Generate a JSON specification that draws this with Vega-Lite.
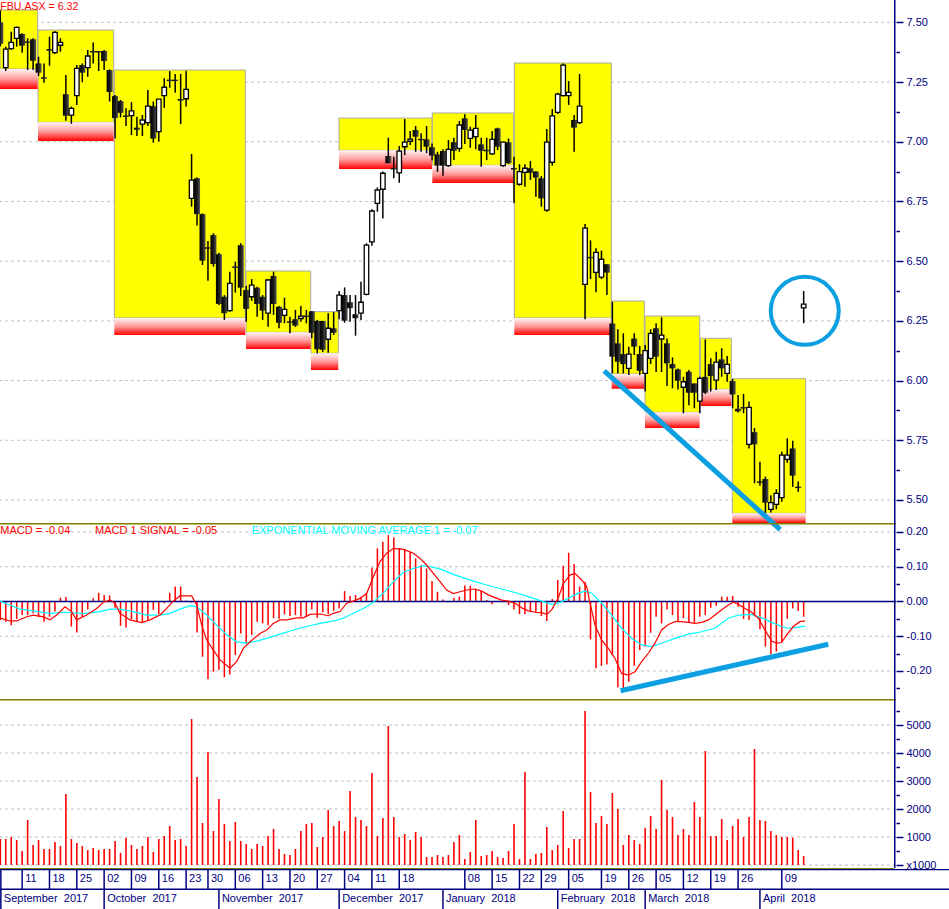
{
"$schema": "https://vega.github.io/schema/vega-lite/v6.json",
"padding": 0,
"spacing": 0,
"bounds": "flush",
"background": "white",
"config": {"view": {"stroke": null}, "font": "Liberation Sans", "axis": {"labelFont": "Liberation Sans"}},
"datasets": {
"days": [
{"i":0,"o":7.50,"h":7.55,"l":7.40,"c":7.41,"m":-0.053,"v":929},
{"i":1,"o":7.31,"h":7.398,"l":7.296,"c":7.388,"m":-0.058,"v":929},
{"i":2,"o":7.39,"h":7.46,"l":7.384,"c":7.416,"m":-0.068,"v":1000},
{"i":3,"o":7.433,"h":7.482,"l":7.398,"c":7.479,"m":-0.05,"v":893},
{"i":4,"o":7.451,"h":7.454,"l":7.373,"c":7.402,"m":-0.039,"v":500},
{"i":5,"o":7.42,"h":7.433,"l":7.30,"c":7.414,"m":-0.039,"v":1607},
{"i":6,"o":7.429,"h":7.433,"l":7.30,"c":7.339,"m":-0.034,"v":714},
{"i":7,"o":7.328,"h":7.356,"l":7.275,"c":7.289,"m":-0.044,"v":893},
{"i":8,"o":7.27,"h":7.328,"l":7.247,"c":7.264,"m":-0.058,"v":571},
{"i":9,"o":7.388,"h":7.44,"l":7.318,"c":7.381,"m":-0.044,"v":571},
{"i":10,"o":7.373,"h":7.464,"l":7.367,"c":7.458,"m":-0.029,"v":821},
{"i":11,"o":7.404,"h":7.433,"l":7.377,"c":7.416,"m":0.011,"v":679},
{"i":12,"o":7.199,"h":7.279,"l":7.088,"c":7.109,"m":0.013,"v":2536},
{"i":13,"o":7.111,"h":7.147,"l":7.075,"c":7.14,"m":-0.072,"v":929},
{"i":14,"o":7.193,"h":7.321,"l":7.154,"c":7.307,"m":-0.089,"v":786},
{"i":15,"o":7.321,"h":7.328,"l":7.249,"c":7.289,"m":-0.044,"v":679},
{"i":16,"o":7.31,"h":7.384,"l":7.272,"c":7.359,"m":-0.023,"v":536},
{"i":17,"o":7.38,"h":7.415,"l":7.328,"c":7.374,"m":0.009,"v":607},
{"i":18,"o":7.38,"h":7.38,"l":7.296,"c":7.374,"m":0.025,"v":536},
{"i":19,"o":7.38,"h":7.384,"l":7.30,"c":7.338,"m":0.019,"v":571},
{"i":20,"o":7.30,"h":7.303,"l":7.168,"c":7.208,"m":0.017,"v":571},
{"i":21,"o":7.191,"h":7.196,"l":7.014,"c":7.099,"m":-0.018,"v":857},
{"i":22,"o":7.17,"h":7.175,"l":7.102,"c":7.121,"m":-0.07,"v":429},
{"i":23,"o":7.11,"h":7.14,"l":7.066,"c":7.104,"m":-0.075,"v":964},
{"i":24,"o":7.109,"h":7.166,"l":7.028,"c":7.129,"m":-0.051,"v":714},
{"i":25,"o":7.059,"h":7.105,"l":7.024,"c":7.05,"m":-0.056,"v":571},
{"i":26,"o":7.074,"h":7.112,"l":7.024,"c":7.091,"m":-0.06,"v":679},
{"i":27,"o":7.08,"h":7.217,"l":7.066,"c":7.149,"m":-0.056,"v":1000},
{"i":28,"o":7.149,"h":7.168,"l":6.996,"c":7.013,"m":-0.024,"v":464},
{"i":29,"o":7.042,"h":7.178,"l":7.0,"c":7.178,"m":-0.037,"v":929},
{"i":30,"o":7.193,"h":7.266,"l":7.142,"c":7.228,"m":-0.005,"v":1036},
{"i":31,"o":7.26,"h":7.296,"l":7.226,"c":7.254,"m":0.025,"v":1393},
{"i":32,"o":7.26,"h":7.284,"l":7.205,"c":7.254,"m":0.043,"v":893},
{"i":33,"o":7.179,"h":7.284,"l":7.074,"c":7.172,"m":0.043,"v":929},
{"i":34,"o":7.18,"h":7.297,"l":7.147,"c":7.219,"m":0.002,"v":679},
{"i":35,"o":6.763,"h":6.949,"l":6.728,"c":6.839,"m":-0.003,"v":5214},
{"i":36,"o":6.847,"h":6.85,"l":6.649,"c":6.697,"m":-0.089,"v":3143},
{"i":37,"o":6.697,"h":6.70,"l":6.484,"c":6.502,"m":-0.159,"v":1500},
{"i":38,"o":6.558,"h":6.584,"l":6.418,"c":6.552,"m":-0.224,"v":4036},
{"i":39,"o":6.609,"h":6.617,"l":6.477,"c":6.488,"m":-0.202,"v":1214},
{"i":40,"o":6.529,"h":6.535,"l":6.316,"c":6.321,"m":-0.197,"v":2357},
{"i":41,"o":6.351,"h":6.358,"l":6.254,"c":6.282,"m":-0.218,"v":1464},
{"i":42,"o":6.293,"h":6.456,"l":6.288,"c":6.407,"m":-0.21,"v":857},
{"i":43,"o":6.478,"h":6.498,"l":6.368,"c":6.472,"m":-0.154,"v":1536},
{"i":44,"o":6.567,"h":6.575,"l":6.354,"c":6.389,"m":-0.092,"v":857},
{"i":45,"o":6.379,"h":6.396,"l":6.246,"c":6.30,"m":-0.12,"v":750},
{"i":46,"o":6.351,"h":6.425,"l":6.334,"c":6.40,"m":-0.096,"v":571},
{"i":47,"o":6.389,"h":6.393,"l":6.267,"c":6.321,"m":-0.058,"v":750},
{"i":48,"o":6.351,"h":6.358,"l":6.254,"c":6.293,"m":-0.063,"v":679},
{"i":49,"o":6.282,"h":6.425,"l":6.225,"c":6.421,"m":-0.068,"v":1036},
{"i":50,"o":6.438,"h":6.456,"l":6.275,"c":6.321,"m":-0.048,"v":1286},
{"i":51,"o":6.309,"h":6.312,"l":6.219,"c":6.242,"m":-0.05,"v":571},
{"i":52,"o":6.273,"h":6.347,"l":6.24,"c":6.298,"m":-0.037,"v":393},
{"i":53,"o":6.248,"h":6.267,"l":6.198,"c":6.242,"m":-0.042,"v":357},
{"i":54,"o":6.257,"h":6.296,"l":6.225,"c":6.23,"m":-0.039,"v":571},
{"i":55,"o":6.26,"h":6.312,"l":6.246,"c":6.27,"m":-0.044,"v":1214},
{"i":56,"o":6.272,"h":6.296,"l":6.24,"c":6.266,"m":-0.044,"v":1464},
{"i":57,"o":6.29,"h":6.29,"l":6.177,"c":6.20,"m":-0.023,"v":1500},
{"i":58,"o":6.25,"h":6.254,"l":6.114,"c":6.131,"m":-0.047,"v":643},
{"i":59,"o":6.25,"h":6.25,"l":6.12,"c":6.129,"m":-0.031,"v":1000},
{"i":60,"o":6.173,"h":6.282,"l":6.117,"c":6.219,"m":-0.037,"v":1964},
{"i":61,"o":6.219,"h":6.288,"l":6.191,"c":6.20,"m":-0.027,"v":1393},
{"i":62,"o":6.293,"h":6.375,"l":6.257,"c":6.358,"m":-0.02,"v":1571},
{"i":63,"o":6.358,"h":6.39,"l":6.242,"c":6.251,"m":0.03,"v":1214},
{"i":64,"o":6.328,"h":6.358,"l":6.246,"c":6.303,"m":0.016,"v":2643},
{"i":65,"o":6.278,"h":6.358,"l":6.188,"c":6.261,"m":0.019,"v":1714},
{"i":66,"o":6.282,"h":6.414,"l":6.254,"c":6.328,"m":0.014,"v":1607},
{"i":67,"o":6.361,"h":6.575,"l":6.357,"c":6.567,"m":0.024,"v":1393},
{"i":68,"o":6.581,"h":6.717,"l":6.565,"c":6.71,"m":0.097,"v":3286},
{"i":69,"o":6.742,"h":6.809,"l":6.707,"c":6.798,"m":0.153,"v":1036},
{"i":70,"o":6.801,"h":6.875,"l":6.679,"c":6.868,"m":0.172,"v":1679},
{"i":71,"o":6.94,"h":7.017,"l":6.91,"c":6.91,"m":0.191,"v":4964},
{"i":72,"o":6.89,"h":6.937,"l":6.847,"c":6.884,"m":0.184,"v":1714},
{"i":73,"o":6.87,"h":6.982,"l":6.828,"c":6.961,"m":0.153,"v":1000},
{"i":74,"o":6.979,"h":7.095,"l":6.944,"c":6.998,"m":0.15,"v":1107},
{"i":75,"o":7.002,"h":7.045,"l":6.986,"c":7.011,"m":0.143,"v":893},
{"i":76,"o":7.049,"h":7.066,"l":6.958,"c":7.021,"m":0.124,"v":1179},
{"i":77,"o":7.012,"h":7.035,"l":6.958,"c":7.006,"m":0.105,"v":1000},
{"i":78,"o":7.01,"h":7.066,"l":6.952,"c":6.979,"m":0.095,"v":286},
{"i":79,"o":6.977,"h":6.993,"l":6.921,"c":6.942,"m":0.059,"v":286},
{"i":80,"o":6.947,"h":6.958,"l":6.874,"c":6.90,"m":0.028,"v":357},
{"i":81,"o":6.961,"h":6.968,"l":6.858,"c":6.90,"m":0.006,"v":286},
{"i":82,"o":6.90,"h":7.007,"l":6.895,"c":6.968,"m":-0.002,"v":357},
{"i":83,"o":6.998,"h":7.017,"l":6.923,"c":6.962,"m":0.011,"v":821},
{"i":84,"o":6.972,"h":7.087,"l":6.958,"c":7.07,"m":0.014,"v":1071},
{"i":85,"o":7.098,"h":7.115,"l":6.99,"c":7.049,"m":0.046,"v":214},
{"i":86,"o":7.014,"h":7.063,"l":6.975,"c":7.049,"m":0.045,"v":464},
{"i":87,"o":7.021,"h":7.112,"l":6.968,"c":7.056,"m":0.036,"v":1607},
{"i":88,"o":6.989,"h":7.017,"l":6.895,"c":6.962,"m":0.03,"v":321},
{"i":89,"o":6.966,"h":7.017,"l":6.923,"c":6.96,"m":0.004,"v":357},
{"i":90,"o":6.949,"h":7.045,"l":6.944,"c":7.01,"m":-0.008,"v":500},
{"i":91,"o":7.056,"h":7.059,"l":6.965,"c":6.979,"m":0.001,"v":286},
{"i":92,"o":6.90,"h":7.0,"l":6.895,"c":6.998,"m":-0.002,"v":250},
{"i":93,"o":6.998,"h":7.014,"l":6.907,"c":6.91,"m":-0.01,"v":500},
{"i":94,"o":6.89,"h":6.937,"l":6.743,"c":6.884,"m":-0.023,"v":1464},
{"i":95,"o":6.822,"h":6.906,"l":6.816,"c":6.875,"m":-0.036,"v":214},
{"i":96,"o":6.872,"h":6.906,"l":6.812,"c":6.889,"m":-0.037,"v":3321},
{"i":97,"o":6.889,"h":6.919,"l":6.84,"c":6.87,"m":-0.029,"v":214},
{"i":98,"o":6.875,"h":6.877,"l":6.77,"c":6.85,"m":-0.031,"v":393},
{"i":99,"o":6.847,"h":6.856,"l":6.728,"c":6.763,"m":-0.042,"v":429},
{"i":100,"o":6.714,"h":7.053,"l":6.707,"c":6.998,"m":-0.056,"v":1357},
{"i":101,"o":6.914,"h":7.137,"l":6.90,"c":7.108,"m":0.007,"v":536},
{"i":102,"o":7.123,"h":7.205,"l":7.116,"c":7.199,"m":0.062,"v":714},
{"i":103,"o":7.193,"h":7.328,"l":7.189,"c":7.321,"m":0.103,"v":1929},
{"i":104,"o":7.193,"h":7.254,"l":7.154,"c":7.207,"m":0.14,"v":607},
{"i":105,"o":7.091,"h":7.112,"l":6.958,"c":7.059,"m":0.108,"v":929},
{"i":106,"o":7.08,"h":7.284,"l":7.074,"c":7.149,"m":0.043,"v":929},
{"i":107,"o":6.403,"h":6.656,"l":6.257,"c":6.638,"m":0.057,"v":5500},
{"i":108,"o":6.518,"h":6.587,"l":6.425,"c":6.512,"m":-0.109,"v":2607},
{"i":109,"o":6.453,"h":6.554,"l":6.37,"c":6.537,"m":-0.192,"v":1500},
{"i":110,"o":6.433,"h":6.544,"l":6.425,"c":6.508,"m":-0.185,"v":1750},
{"i":111,"o":6.487,"h":6.487,"l":6.358,"c":6.452,"m":-0.181,"v":1464},
{"i":112,"o":6.239,"h":6.33,"l":6.03,"c":6.10,"m":-0.154,"v":2571},
{"i":113,"o":6.156,"h":6.215,"l":6.03,"c":6.079,"m":-0.247,"v":2000},
{"i":114,"o":6.111,"h":6.198,"l":6.03,"c":6.069,"m":-0.25,"v":714},
{"i":115,"o":6.051,"h":6.142,"l":6.023,"c":6.111,"m":-0.231,"v":1071},
{"i":116,"o":6.176,"h":6.198,"l":6.107,"c":6.142,"m":-0.185,"v":893},
{"i":117,"o":6.111,"h":6.145,"l":6.023,"c":6.041,"m":-0.14,"v":750},
{"i":118,"o":6.03,"h":6.149,"l":5.954,"c":6.125,"m":-0.13,"v":1321},
{"i":119,"o":6.093,"h":6.215,"l":6.069,"c":6.198,"m":-0.09,"v":1750},
{"i":120,"o":6.219,"h":6.24,"l":6.036,"c":6.10,"m":-0.044,"v":1286},
{"i":121,"o":6.174,"h":6.265,"l":6.036,"c":6.19,"m":-0.063,"v":3036},
{"i":122,"o":6.156,"h":6.176,"l":5.977,"c":6.072,"m":-0.023,"v":1964},
{"i":123,"o":6.069,"h":6.097,"l":5.968,"c":6.051,"m":-0.039,"v":1714},
{"i":124,"o":6.047,"h":6.051,"l":5.963,"c":5.999,"m":-0.058,"v":1071},
{"i":125,"o":5.972,"h":6.016,"l":5.863,"c":5.995,"m":-0.048,"v":1286},
{"i":126,"o":6.037,"h":6.044,"l":5.897,"c":5.949,"m":-0.06,"v":1071},
{"i":127,"o":5.988,"h":5.988,"l":5.884,"c":5.949,"m":-0.061,"v":2250},
{"i":128,"o":5.914,"h":6.016,"l":5.863,"c":6.009,"m":-0.044,"v":1714},
{"i":129,"o":6.016,"h":6.172,"l":5.944,"c":5.949,"m":-0.039,"v":4071},
{"i":130,"o":6.069,"h":6.093,"l":5.954,"c":6.019,"m":-0.018,"v":1036},
{"i":131,"o":6.002,"h":6.121,"l":5.961,"c":6.077,"m":-0.012,"v":1036},
{"i":132,"o":6.089,"h":6.135,"l":6.016,"c":6.051,"m":0.014,"v":1643},
{"i":133,"o":6.03,"h":6.103,"l":5.995,"c":6.068,"m":0.014,"v":893},
{"i":134,"o":5.998,"h":6.007,"l":5.884,"c":5.942,"m":0.016,"v":1393},
{"i":135,"o":5.882,"h":5.94,"l":5.866,"c":5.871,"m":-0.015,"v":1643},
{"i":136,"o":5.889,"h":5.944,"l":5.863,"c":5.883,"m":-0.05,"v":1000},
{"i":137,"o":5.733,"h":5.912,"l":5.716,"c":5.888,"m":-0.053,"v":1714},
{"i":138,"o":5.784,"h":5.802,"l":5.57,"c":5.733,"m":-0.039,"v":4143},
{"i":139,"o":5.578,"h":5.66,"l":5.56,"c":5.572,"m":-0.08,"v":1607},
{"i":140,"o":5.588,"h":5.598,"l":5.444,"c":5.489,"m":-0.13,"v":1571},
{"i":141,"o":5.461,"h":5.52,"l":5.448,"c":5.489,"m":-0.152,"v":1214},
{"i":142,"o":5.482,"h":5.545,"l":5.461,"c":5.528,"m":-0.144,"v":1071},
{"i":143,"o":5.51,"h":5.702,"l":5.493,"c":5.688,"m":-0.116,"v":1000},
{"i":144,"o":5.67,"h":5.758,"l":5.656,"c":5.688,"m":-0.05,"v":1000},
{"i":145,"o":5.716,"h":5.748,"l":5.555,"c":5.602,"m":-0.02,"v":976},
{"i":146,"o":5.556,"h":5.577,"l":5.535,"c":5.55,"m":-0.027,"v":536},
{"i":147,"o":6.304,"h":6.375,"l":6.24,"c":6.32,"m":-0.044,"v":321}
],
"boxes": [
{"s":-0.055,"e":6.85,"top":7.5515,"bot":7.3045,"red":7.2208},
{"s":6.9,"e":20.75,"top":7.4678,"bot":7.0813,"red":7.003},
{"s":20.86,"e":44.83,"top":7.3003,"bot":6.262,"red":6.191},
{"s":44.96,"e":56.8,"top":6.4587,"bot":6.2022,"red":6.1323},
{"s":56.85,"e":61.85,"top":6.2884,"bot":6.1142,"red":6.0443},
{"s":61.98,"e":79.0,"top":7.0993,"bot":6.9641,"red":6.8858},
{"s":79.05,"e":93.94,"top":7.1203,"bot":6.9013,"red":6.8272},
{"s":94.05,"e":111.8,"top":7.3296,"bot":6.262,"red":6.191},
{"s":111.87,"e":117.84,"top":6.3331,"bot":6.0275,"red":5.966},
{"s":117.97,"e":127.97,"top":6.2703,"bot":5.8671,"red":5.8013},
{"s":128.09,"e":133.76,"top":6.177,"bot":5.9635,"red":5.8936},
{"s":133.94,"e":147.37,"top":6.0078,"bot":5.4443,"red":5.4037}
],
"sig": [
{"i":-0.05,"v":-0.048},{"i":1.77,"v":-0.056},{"i":3.0,"v":-0.056},{"i":4.82,"v":-0.044},{"i":6.04,"v":-0.039},{"i":7.87,"v":-0.044},{"i":9.09,"v":-0.053},{"i":10.31,"v":-0.039},{"i":11.84,"v":-0.015},{"i":13.06,"v":-0.029},{"i":13.97,"v":-0.053},{"i":15.8,"v":-0.039},{"i":17.63,"v":-0.02},{"i":18.85,"v":-0.002},{"i":20.07,"v":0.004},{"i":20.99,"v":-0.005},{"i":21.9,"v":-0.034},{"i":23.73,"v":-0.053},{"i":25.87,"v":-0.061},{"i":27.39,"v":-0.053},{"i":29.22,"v":-0.039},{"i":30.44,"v":-0.02},{"i":31.66,"v":0.001},{"i":32.88,"v":0.016},{"i":35.02,"v":0.016},{"i":35.93,"v":-0.01},{"i":36.85,"v":-0.068},{"i":37.76,"v":-0.111},{"i":38.98,"v":-0.14},{"i":40.2,"v":-0.168},{"i":42.03,"v":-0.192},{"i":43.25,"v":-0.173},{"i":44.47,"v":-0.135},{"i":45.69,"v":-0.116},{"i":47.52,"v":-0.092},{"i":48.74,"v":-0.082},{"i":49.96,"v":-0.063},{"i":51.18,"v":-0.053},{"i":52.4,"v":-0.053},{"i":54.23,"v":-0.047},{"i":55.45,"v":-0.047},{"i":56.67,"v":-0.037},{"i":58.5,"v":-0.036},{"i":60.02,"v":-0.041},{"i":60.94,"v":-0.034},{"i":62.16,"v":-0.029},{"i":63.38,"v":-0.005},{"i":64.6,"v":0.001},{"i":65.82,"v":0.009},{"i":67.04,"v":0.023},{"i":68.26,"v":0.071},{"i":69.48,"v":0.115},{"i":70.7,"v":0.139},{"i":71.92,"v":0.153},{"i":73.75,"v":0.15},{"i":75.58,"v":0.139},{"i":76.8,"v":0.124},{"i":78.02,"v":0.105},{"i":79.24,"v":0.081},{"i":80.46,"v":0.057},{"i":81.68,"v":0.033},{"i":82.9,"v":0.023},{"i":84.12,"v":0.028},{"i":85.34,"v":0.033},{"i":86.86,"v":0.036},{"i":88.08,"v":0.03},{"i":89.3,"v":0.019},{"i":90.52,"v":0.011},{"i":91.74,"v":0.004},{"i":92.96,"v":0.001},{"i":94.18,"v":-0.005},{"i":95.4,"v":-0.018},{"i":96.62,"v":-0.027},{"i":97.84,"v":-0.031},{"i":99.06,"v":-0.032},{"i":99.98,"v":-0.037},{"i":100.89,"v":-0.024},{"i":102.11,"v":0.011},{"i":103.03,"v":0.052},{"i":104.25,"v":0.076},{"i":105.16,"v":0.081},{"i":106.38,"v":0.062},{"i":107.3,"v":0.043},{"i":107.91,"v":-0.005},{"i":108.82,"v":-0.068},{"i":110.04,"v":-0.111},{"i":111.26,"v":-0.135},{"i":112.48,"v":-0.164},{"i":113.69,"v":-0.207},{"i":114.91,"v":-0.212},{"i":116.13,"v":-0.202},{"i":117.35,"v":-0.173},{"i":118.57,"v":-0.149},{"i":119.79,"v":-0.12},{"i":121.0,"v":-0.082},{"i":122.24,"v":-0.066},{"i":123.46,"v":-0.058},{"i":124.68,"v":-0.058},{"i":125.9,"v":-0.06},{"i":127.12,"v":-0.063},{"i":128.34,"v":-0.06},{"i":129.56,"v":-0.053},{"i":130.78,"v":-0.039},{"i":132.0,"v":-0.024},{"i":133.22,"v":-0.01},{"i":134.13,"v":-0.002},{"i":135.05,"v":-0.008},{"i":136.27,"v":-0.02},{"i":137.48,"v":-0.031},{"i":138.7,"v":-0.048},{"i":139.92,"v":-0.082},{"i":141.14,"v":-0.114},{"i":142.06,"v":-0.12},{"i":142.97,"v":-0.118},{"i":143.89,"v":-0.096},{"i":145.1,"v":-0.072},{"i":146.32,"v":-0.058},{"i":147.24,"v":-0.056}
],
"ema": [
{"i":-0.05,"v":0.001},{"i":1.77,"v":-0.01},{"i":3.6,"v":-0.022},{"i":6.04,"v":-0.027},{"i":9.09,"v":-0.034},{"i":12.14,"v":-0.031},{"i":15.19,"v":-0.035},{"i":18.24,"v":-0.029},{"i":20.07,"v":-0.022},{"i":21.9,"v":-0.022},{"i":24.34,"v":-0.029},{"i":26.78,"v":-0.039},{"i":29.22,"v":-0.039},{"i":31.05,"v":-0.034},{"i":32.88,"v":-0.022},{"i":34.71,"v":-0.012},{"i":35.93,"v":-0.015},{"i":37.76,"v":-0.039},{"i":39.59,"v":-0.068},{"i":41.42,"v":-0.096},{"i":43.25,"v":-0.116},{"i":45.08,"v":-0.12},{"i":46.91,"v":-0.114},{"i":48.74,"v":-0.106},{"i":51.18,"v":-0.094},{"i":53.62,"v":-0.082},{"i":56.06,"v":-0.072},{"i":58.5,"v":-0.063},{"i":60.94,"v":-0.056},{"i":62.77,"v":-0.048},{"i":64.6,"v":-0.034},{"i":66.43,"v":-0.02},{"i":68.26,"v":-0.002},{"i":70.09,"v":0.024},{"i":71.92,"v":0.057},{"i":73.75,"v":0.084},{"i":75.58,"v":0.095},{"i":77.41,"v":0.103},{"i":78.63,"v":0.1},{"i":80.46,"v":0.094},{"i":82.9,"v":0.078},{"i":85.34,"v":0.065},{"i":86.86,"v":0.057},{"i":89.3,"v":0.046},{"i":91.74,"v":0.036},{"i":94.18,"v":0.026},{"i":96.62,"v":0.014},{"i":99.06,"v":0.001},{"i":100.89,"v":-0.008},{"i":102.11,"v":-0.005},{"i":103.94,"v":0.009},{"i":105.77,"v":0.024},{"i":106.99,"v":0.03},{"i":108.21,"v":0.024},{"i":110.04,"v":-0.005},{"i":111.87,"v":-0.039},{"i":113.69,"v":-0.077},{"i":115.52,"v":-0.106},{"i":117.35,"v":-0.125},{"i":119.19,"v":-0.13},{"i":121.0,"v":-0.12},{"i":123.46,"v":-0.106},{"i":125.9,"v":-0.094},{"i":128.34,"v":-0.087},{"i":130.78,"v":-0.077},{"i":133.22,"v":-0.048},{"i":135.05,"v":-0.039},{"i":137.48,"v":-0.037},{"i":139.31,"v":-0.047},{"i":141.14,"v":-0.06},{"i":142.97,"v":-0.072},{"i":144.19,"v":-0.077},{"i":145.41,"v":-0.075},{"i":147.24,"v":-0.071}
],
"trendPrice": [{"i":110.5,"p":6.041},{"i":142.7,"p":5.376}],
"trendMacd": [{"i":113.5,"v":-0.257},{"i":151.5,"v":-0.123}],
"circle": [{"i":147.2,"p":6.292}],
"gridP": [{"g":5.5},{"g":5.75},{"g":6.0},{"g":6.25},{"g":6.5},{"g":6.75},{"g":7.0},{"g":7.25},{"g":7.5}],
"gridM": [{"g":-0.2},{"g":-0.1},{"g":0.1},{"g":0.2}],
"gridV": [{"g":0},{"g":1000},{"g":2000},{"g":3000},{"g":4000},{"g":5000}],
"dayTicks": [
{"i":0.1,"t":""},{"i":4,"t":"11"},{"i":9,"t":"18"},{"i":14,"t":"25"},{"i":19,"t":"02"},{"i":24,"t":"09"},{"i":29,"t":"16"},{"i":34,"t":"23"},{"i":38,"t":"30"},{"i":43,"t":"06"},{"i":48,"t":"13"},{"i":53,"t":"20"},{"i":58,"t":"27"},{"i":63,"t":"04"},{"i":68,"t":"11"},{"i":73,"t":"18"},{"i":85,"t":"08"},{"i":90,"t":"15"},{"i":95,"t":"22"},{"i":99,"t":"29"},{"i":104,"t":"05"},{"i":110,"t":"19"},{"i":115,"t":"26"},{"i":120,"t":"05"},{"i":125,"t":"12"},{"i":130,"t":"19"},{"i":135,"t":"26"},{"i":143,"t":"09"}
],
"monthTicks": [
{"i":0.1,"t":"September\u00a0 2017"},{"i":19,"t":"October\u00a0 2017"},{"i":40,"t":"November\u00a0 2017"},{"i":62,"t":"December\u00a0 2017"},{"i":81,"t":"January\u00a0 2018"},{"i":102,"t":"February\u00a0 2018"},{"i":118,"t":"March\u00a0 2018"},{"i":139,"t":"April\u00a0 2018"}
]
},
"vconcat": [
{
"width": 896, "height": 523,
"encoding": {
 "x": {"type": "quantitative", "scale": {"domain": [-0.055, 163.896], "nice": false, "zero": false, "padding": 0}, "axis": null},
 "y": {"type": "quantitative", "scale": {"domain": [5.4037, 7.5934], "nice": false, "zero": false, "padding": 0},
   "axis": {"orient": "right", "title": null, "domain": false, "grid": false,
     "values": [5.5,5.625,5.75,5.875,6,6.125,6.25,6.375,6.5,6.625,6.75,6.875,7,7.125,7.25,7.375,7.5],
     "labelExpr": "abs(datum.value*4 - round(datum.value*4)) < 0.01 ? format(datum.value, '.2f') : ''",
     "tickSize": {"condition": {"test": "abs(datum.value*4 - round(datum.value*4)) > 0.01", "value": 3.5}, "value": 7},
     "tickColor": "#000080", "tickWidth": 1.5,
     "labelColor": "#000080", "labelFontSize": 11, "labelPadding": 3, "labelOverlap": false, "labelFlush": false, "labelBound": false}}
},
"layer": [
 {"data": {"name": "gridP"}, "mark": {"type": "rule", "color": "#c0c0c0", "strokeWidth": 1, "strokeDash": [3,3], "clip": true},
  "encoding": {"y": {"field": "g"}}},
 {"data": {"name": "boxes"}, "mark": {"type": "rect", "fill": "#ffff00", "stroke": "#a8a8a8", "strokeWidth": 1, "clip": true},
  "encoding": {"x": {"field": "s"}, "x2": {"field": "e"}, "y": {"field": "top"}, "y2": {"field": "bot"}}},
 {"data": {"name": "boxes"}, "mark": {"type": "rect", "clip": true, "fill": {"gradient": "linear", "x1": 0, "y1": 0, "x2": 0, "y2": 1, "stops": [{"offset": 0, "color": "#fff4f4"}, {"offset": 0.5, "color": "#ff9a9a"}, {"offset": 1, "color": "#ff0000"}]}},
  "encoding": {"x": {"field": "s"}, "x2": {"field": "e"}, "y": {"field": "bot"}, "y2": {"field": "red"}}},
 {"data": {"name": "days"}, "mark": {"type": "rule", "color": "#000000", "strokeWidth": 1.5, "clip": true},
  "encoding": {"x": {"field": "i"}, "y": {"field": "l"}, "y2": {"field": "h"}}},
 {"data": {"name": "days"}, "transform": [{"filter": "datum.c < datum.o"}],
  "mark": {"type": "bar", "width": 6, "clip": true, "fill": {"gradient": "linear", "x1": 0, "y1": 0, "x2": 1, "y2": 0, "stops": [{"offset": 0, "color": "#000000"}, {"offset": 0.55, "color": "#1c1c1c"}, {"offset": 1, "color": "#5a5a5a"}]}},
  "encoding": {"x": {"field": "i"}, "y": {"field": "o"}, "y2": {"field": "c"}}},
 {"data": {"name": "days"}, "transform": [{"filter": "datum.c >= datum.o"}],
  "mark": {"type": "bar", "width": 4.5, "fill": "#ffffff", "stroke": "#000000", "strokeWidth": 1.3, "clip": true},
  "encoding": {"x": {"field": "i"}, "y": {"field": "o"}, "y2": {"field": "c"}}},
 {"data": {"values": [{}]}, "mark": {"type": "rule", "color": "#000080", "strokeWidth": 1.5, "clip": true},
  "encoding": {"x": {"datum": 163.67}}},
 {"data": {"name": "trendPrice"}, "mark": {"type": "line", "color": "#0ca0e2", "strokeWidth": 5, "clip": false},
  "encoding": {"x": {"field": "i"}, "y": {"field": "p"}}},
 {"data": {"name": "circle"}, "mark": {"type": "point", "shape": "circle", "filled": false, "stroke": "#0ca0e2", "strokeWidth": 4, "size": 4624, "opacity": 1},
  "encoding": {"x": {"field": "i"}, "y": {"field": "p"}}},
 {"data": {"values": [{"t": "FBU.ASX = 6.32"}]}, "mark": {"type": "text", "align": "left", "baseline": "middle", "color": "#ff0000", "fontSize": 10.6, "font": "Liberation Sans"},
  "encoding": {"x": {"datum": 0}, "y": {"datum": 7.564}, "text": {"field": "t"}}}
]
},
{
"width": 896, "height": 176,
"encoding": {
 "x": {"type": "quantitative", "scale": {"domain": [-0.055, 163.896], "nice": false, "zero": false, "padding": 0}, "axis": null},
 "y": {"type": "quantitative", "scale": {"domain": [-0.2806, 0.2259], "nice": false, "zero": false, "padding": 0},
   "axis": {"orient": "right", "title": null, "domain": false, "grid": false,
     "values": [-0.25,-0.2,-0.15,-0.1,-0.05,0,0.05,0.1,0.15,0.2],
     "labelExpr": "abs(datum.value*10 - round(datum.value*10)) < 0.01 ? replace(format(datum.value, '.2f'), '\u2212', '-') : ''",
     "tickSize": {"condition": {"test": "abs(datum.value*10 - round(datum.value*10)) > 0.01", "value": 3.5}, "value": 7},
     "tickColor": "#000080", "tickWidth": 1.5,
     "labelColor": "#000080", "labelFontSize": 11, "labelPadding": 3, "labelOverlap": false, "labelFlush": false, "labelBound": false}}
},
"layer": [
 {"data": {"name": "gridM"}, "mark": {"type": "rule", "color": "#c0c0c0", "strokeWidth": 1, "strokeDash": [3,3], "clip": true},
  "encoding": {"y": {"field": "g"}}},
 {"data": {"name": "days"}, "mark": {"type": "rule", "color": "#ff0000", "strokeWidth": 1.5, "clip": true},
  "encoding": {"x": {"field": "i"}, "y": {"field": "m"}, "y2": {"datum": 0}}},
 {"mark": {"type": "rule", "color": "#000080", "strokeWidth": 1.5, "clip": true}, "data": {"values": [{}]},
  "encoding": {"y": {"datum": 0}}},
 {"data": {"name": "ema"}, "mark": {"type": "line", "color": "#00ffff", "strokeWidth": 1.2, "clip": true},
  "encoding": {"x": {"field": "i"}, "y": {"field": "v"}}},
 {"data": {"name": "sig"}, "mark": {"type": "line", "color": "#ff0000", "strokeWidth": 1.2, "clip": true},
  "encoding": {"x": {"field": "i"}, "y": {"field": "v"}}},
 {"data": {"values": [{}]}, "mark": {"type": "rule", "color": "#808000", "strokeWidth": 1.5, "clip": true},
  "encoding": {"y": {"datum": 0.2237}}},
 {"data": {"values": [{}]}, "mark": {"type": "rule", "color": "#000080", "strokeWidth": 1.5, "clip": true},
  "encoding": {"x": {"datum": 163.67}}},
 {"data": {"name": "trendMacd"}, "mark": {"type": "line", "color": "#0ca0e2", "strokeWidth": 5, "clip": false},
  "encoding": {"x": {"field": "i"}, "y": {"field": "v"}}},
 {"data": {"values": [{"t": "MACD = -0.04"}]}, "mark": {"type": "text", "align": "left", "baseline": "middle", "color": "#ff0000", "fontSize": 11, "font": "Liberation Sans"},
  "encoding": {"x": {"datum": 0}, "y": {"datum": 0.2043}, "text": {"field": "t"}}},
 {"data": {"values": [{"t": "MACD 1 SIGNAL = -0.05"}]}, "mark": {"type": "text", "align": "left", "baseline": "middle", "color": "#ff0000", "fontSize": 11, "font": "Liberation Sans"},
  "encoding": {"x": {"datum": 17.33}, "y": {"datum": 0.2043}, "text": {"field": "t"}}},
 {"data": {"values": [{"t": "EXPONENTIAL MOVING AVERAGE 1 = -0.07"}]}, "mark": {"type": "text", "align": "left", "baseline": "middle", "color": "#00ffff", "fontSize": 11, "font": "Liberation Sans"},
  "encoding": {"x": {"datum": 46.0}, "y": {"datum": 0.2043}, "text": {"field": "t"}}}
]
},
{
"width": 896, "height": 169,
"encoding": {
 "x": {"type": "quantitative", "scale": {"domain": [-0.055, 163.896], "nice": false, "zero": false, "padding": 0}, "axis": null},
 "y": {"type": "quantitative", "scale": {"domain": [-107, 5929], "nice": false, "zero": false, "padding": 0},
   "axis": {"orient": "right", "title": null, "domain": false, "grid": false,
     "values": [0,500,1000,1500,2000,2500,3000,3500,4000,4500,5000,5500],
     "labelExpr": "datum.value == 0 ? 'x1000' : (datum.value % 1000 == 0 ? format(datum.value, 'd') : '')",
     "tickSize": {"condition": {"test": "datum.value % 1000 != 0", "value": 3.5}, "value": 7},
     "tickColor": "#000080", "tickWidth": 1.5,
     "labelColor": "#000080", "labelFontSize": 11, "labelPadding": 3, "labelOverlap": false, "labelFlush": false, "labelBound": false}}
},
"layer": [
 {"data": {"name": "gridV"}, "mark": {"type": "rule", "color": "#c0c0c0", "strokeWidth": 1, "strokeDash": [3,3], "clip": true},
  "encoding": {"y": {"field": "g"}}},
 {"data": {"name": "days"}, "mark": {"type": "rule", "color": "#ff0000", "strokeWidth": 1.6, "clip": true},
  "encoding": {"x": {"field": "i"}, "y": {"field": "v"}, "y2": {"datum": 0}}},
 {"data": {"values": [{}]}, "mark": {"type": "rule", "color": "#808000", "strokeWidth": 1.5, "clip": true},
  "encoding": {"y": {"datum": 5902}}},
 {"data": {"values": [{}]}, "mark": {"type": "rule", "color": "#000080", "strokeWidth": 1.5, "clip": true},
  "encoding": {"x": {"datum": 163.67}}}
]
},
{
"width": 949, "height": 41,
"encoding": {
 "x": {"type": "quantitative", "scale": {"domain": [-0.055, 173.595], "nice": false, "zero": false, "padding": 0}, "axis": null},
 "y": {"type": "quantitative", "scale": {"domain": [-0.08, 2], "nice": false, "zero": false, "reverse": true, "padding": 0}, "axis": null}
},
"layer": [
 {"data": {"values": [{}]}, "mark": {"type": "rule", "color": "#808000", "strokeWidth": 1, "clip": true},
  "encoding": {"y": {"datum": -0.055}, "x": {"datum": -0.055}, "x2": {"datum": 163.6}}},
 {"data": {"values": [{"r": 0}, {"r": 1}]}, "mark": {"type": "rule", "color": "#000080", "strokeWidth": 1.4, "clip": true},
  "encoding": {"y": {"field": "r"}}},
 {"data": {"name": "dayTicks"}, "mark": {"type": "rule", "color": "#000080", "strokeWidth": 1.5, "clip": true},
  "encoding": {"x": {"field": "i"}, "y": {"datum": 0}, "y2": {"datum": 1}}},
 {"data": {"name": "dayTicks"}, "mark": {"type": "text", "align": "left", "baseline": "middle", "dx": 3, "color": "#000080", "fontSize": 11, "font": "Liberation Sans"},
  "encoding": {"x": {"field": "i"}, "y": {"datum": 0.5}, "text": {"field": "t"}}},
 {"data": {"name": "monthTicks"}, "mark": {"type": "rule", "color": "#000080", "strokeWidth": 1.5, "clip": true},
  "encoding": {"x": {"field": "i"}, "y": {"datum": 1}, "y2": {"datum": 2}}},
 {"data": {"name": "monthTicks"}, "mark": {"type": "text", "align": "left", "baseline": "middle", "dx": 3, "color": "#000080", "fontSize": 11, "font": "Liberation Sans"},
  "encoding": {"x": {"field": "i"}, "y": {"datum": 1.5}, "text": {"field": "t"}}}
]
}
]
}
